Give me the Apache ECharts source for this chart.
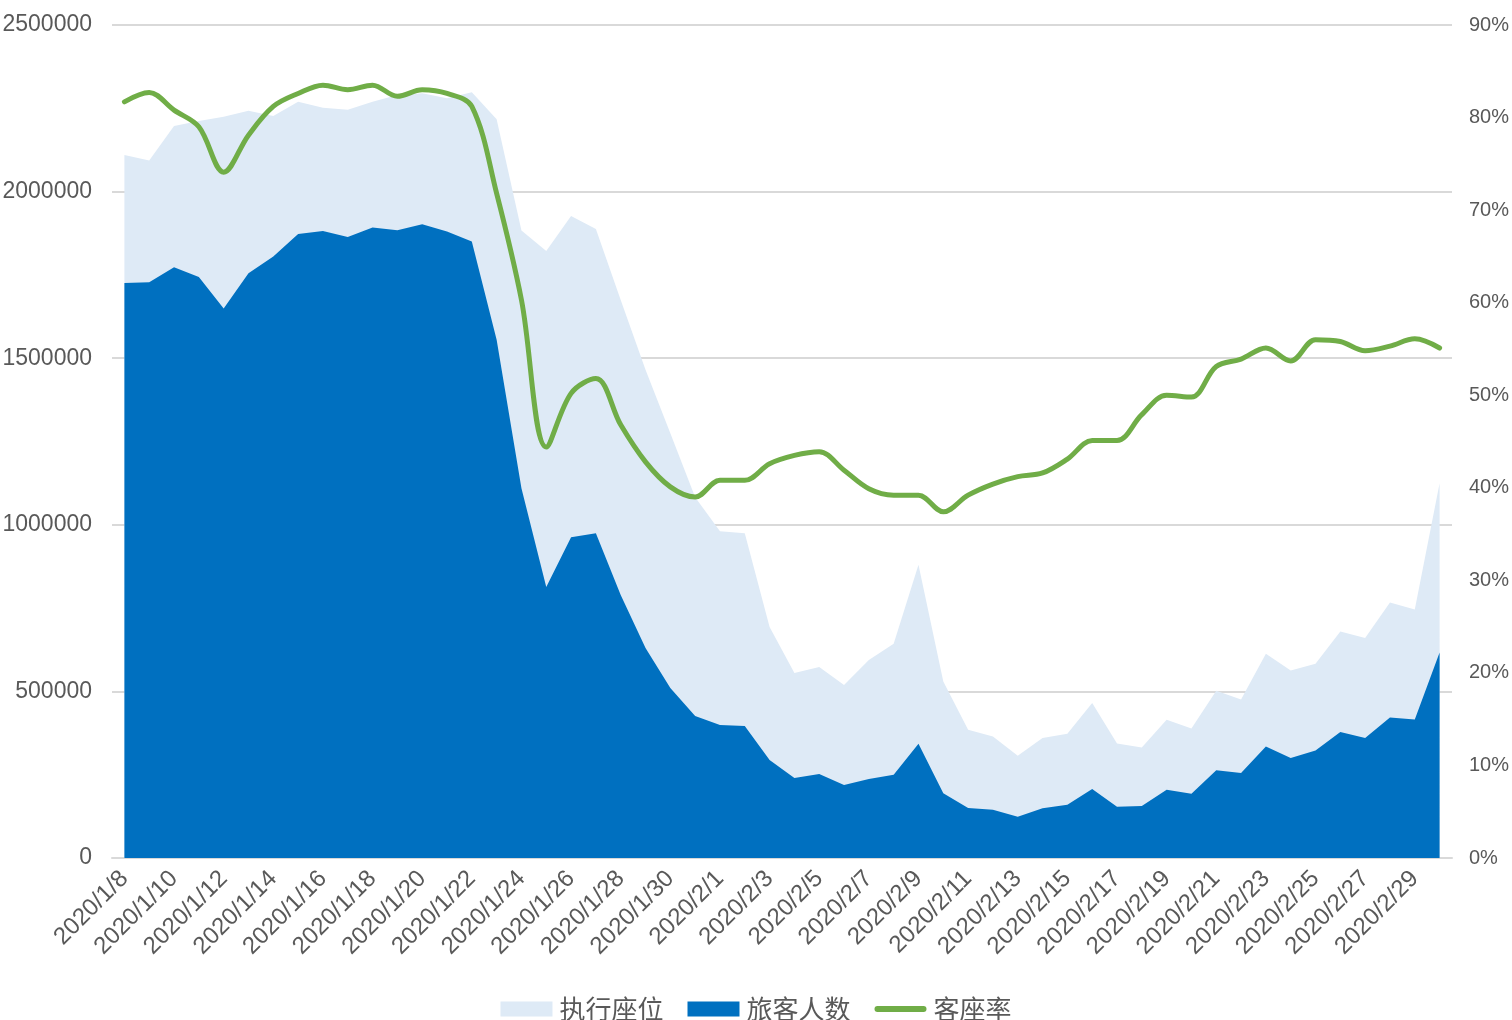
<!DOCTYPE html>
<html>
<head>
<meta charset="utf-8">
<script src="https://cdn.jsdelivr.net/npm/echarts@6/dist/echarts.min.js"></script>
<style>
html,body{margin:0;padding:0;background:#fff;}
#chart{width:1512px;height:1020px;}
</style>
</head>
<body>
<div id="chart"></div>
<script>
const dates = [
  '2020/1/8','2020/1/9','2020/1/10','2020/1/11','2020/1/12','2020/1/13','2020/1/14','2020/1/15','2020/1/16','2020/1/17',
  '2020/1/18','2020/1/19','2020/1/20','2020/1/21','2020/1/22','2020/1/23','2020/1/24','2020/1/25','2020/1/26','2020/1/27',
  '2020/1/28','2020/1/29','2020/1/30','2020/1/31','2020/2/1','2020/2/2','2020/2/3','2020/2/4','2020/2/5','2020/2/6',
  '2020/2/7','2020/2/8','2020/2/9','2020/2/10','2020/2/11','2020/2/12','2020/2/13','2020/2/14','2020/2/15','2020/2/16',
  '2020/2/17','2020/2/18','2020/2/19','2020/2/20','2020/2/21','2020/2/22','2020/2/23','2020/2/24','2020/2/25','2020/2/26',
  '2020/2/27','2020/2/28','2020/2/29','2020/3/1'
];
// 执行座位
const seats = [
  2110000,2093000,2197000,2212000,2225000,2243000,2227000,2270000,2252000,2246000,
  2270000,2290000,2295000,2280000,2298000,2217000,1883000,1822000,1927000,1888000,
  1675000,1465000,1275000,1083000,981000,975000,693000,555000,573000,519000,
  594000,643000,880000,530000,385000,365000,307000,360000,373000,465000,
  344000,332000,415000,389000,502000,476000,613000,563000,583000,680000,
  660000,767000,746000,1125000
];
// 旅客人数
const passengers = [
  1726000,1728000,1773000,1744000,1649000,1755000,1805000,1873000,1882000,1864000,
  1892000,1884000,1902000,1880000,1850000,1555000,1110000,813000,963000,975000,
  789000,630000,510000,426000,399000,396000,294000,240000,252000,219000,
  237000,250000,343000,194000,150000,145000,124000,149000,160000,207000,
  154000,156000,205000,193000,263000,255000,335000,300000,323000,378000,
  360000,422000,416000,617000
];
// 客座率
const loadFactor = [
  0.817,0.827,0.808,0.790,0.741,0.781,0.812,0.826,0.835,0.830,
  0.835,0.823,0.830,0.826,0.812,0.718,0.603,0.444,0.502,0.518,
  0.468,0.428,0.401,0.390,0.408,0.408,0.426,0.435,0.439,0.419,
  0.399,0.392,0.392,0.374,0.392,0.404,0.412,0.416,0.431,0.451,
  0.451,0.479,0.500,0.498,0.531,0.539,0.551,0.537,0.560,0.558,
  0.548,0.553,0.561,0.551
];
const leftTicks = [0, 500000, 1000000, 1500000, 2000000, 2500000];
const rightTicks = [0, 0.1, 0.2, 0.3, 0.4, 0.5, 0.6, 0.7, 0.8, 0.9];

const txt = '#595959';
const gridColor = '#d9d9d9';
const font = "'Liberation Sans', 'Noto Sans CJK SC', sans-serif";

const chart = echarts.init(document.getElementById('chart'));
chart.setOption({
  animation: false,
  backgroundColor: '#fff',
  grid: { left: 112, right: 60, top: 25, bottom: 162, containLabel: false, outerBoundsMode: 'none' },
  legend: {
    top: 991,
    left: 'center',
    itemWidth: 52,
    itemHeight: 15,
    itemGap: 24,
    symbolKeepAspect: true,
    textStyle: { color: txt, fontSize: 26, fontFamily: "'Noto Sans CJK SC', sans-serif", padding: [0,0,0,2] },
    data: [
      { name: '执行座位', icon: 'rect' },
      { name: '旅客人数', icon: 'rect' },
      { name: '客座率', icon: 'path://M3,0L49,0A3,3,0,0,1,49,6L3,6A3,3,0,0,1,3,0Z' }
    ]
  },
  xAxis: {
    type: 'category',
    data: dates,
    boundaryGap: true,
    axisLine: { lineStyle: { color: gridColor, width: 2 } },
    axisTick: { interval: 1, length: 6, lineStyle: { color: gridColor, width: 2 } },
    axisLabel: { interval: 1, rotate: 45, color: txt, fontSize: 24, fontFamily: font, margin: 17 },
    splitLine: { show: false }
  },
  yAxis: [
    {
      type: 'value', min: leftTicks[0], max: leftTicks[leftTicks.length - 1], interval: 500000,
      axisLine: { show: false }, axisTick: { show: false },
      axisLabel: { color: txt, fontSize: 23, fontFamily: font, margin: 20, formatter: v => String(v) },
      splitLine: { lineStyle: { color: gridColor, width: 2 } }
    },
    {
      type: 'value', min: rightTicks[0], max: rightTicks[rightTicks.length - 1], interval: 0.1,
      position: 'right',
      axisLine: { show: false }, axisTick: { show: false },
      axisLabel: { color: txt, fontSize: 20, fontFamily: font, margin: 17,
        formatter: v => Math.round(v * 100) + '%' },
      splitLine: { show: false }
    }
  ],
  series: [
    {
      name: '执行座位', type: 'line', data: seats, yAxisIndex: 0,
      showSymbol: false, symbol: 'none',
      lineStyle: { width: 0 },
      itemStyle: { color: '#DEEAF6' },
      areaStyle: { color: '#DEEAF6', opacity: 1 },
      z: 1
    },
    {
      name: '旅客人数', type: 'line', data: passengers, yAxisIndex: 0,
      showSymbol: false, symbol: 'none',
      lineStyle: { width: 0 },
      itemStyle: { color: '#0070C0' },
      areaStyle: { color: '#0070C0', opacity: 1 },
      z: 2
    },
    {
      name: '客座率', type: 'line', data: loadFactor, yAxisIndex: 1,
      showSymbol: false, symbol: 'none', smooth: 0.35,
      lineStyle: { width: 5, color: '#70AD47', cap: 'round' },
      itemStyle: { color: '#70AD47' },
      z: 3
    }
  ]
});
</script>
</body>
</html>
